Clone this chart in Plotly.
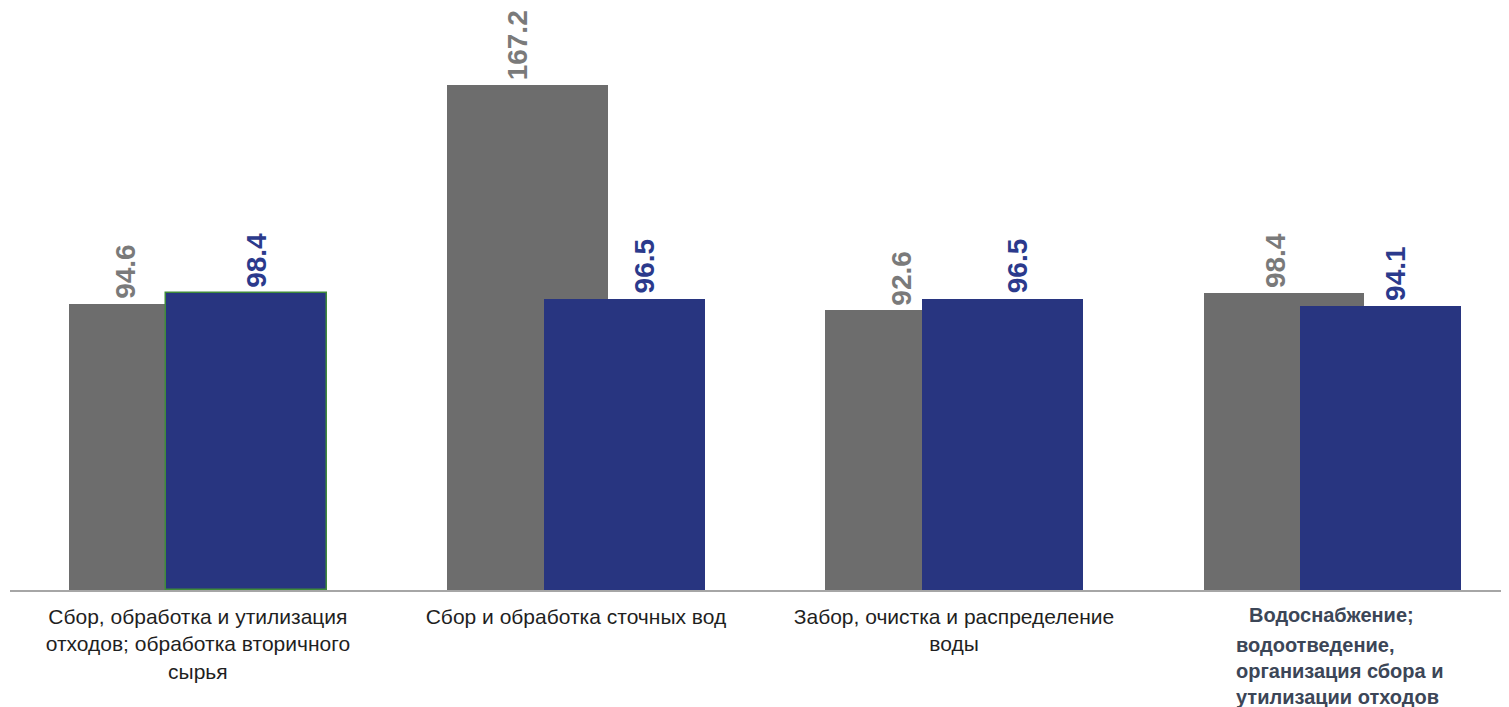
import plotly.graph_objects as go

categories = [
    "Сбор, обработка и утилизация<br>отходов; обработка вторичного<br>сырья",
    "Сбор и обработка сточных вод",
    "Забор, очистка и распределение<br>воды",
    "Водоснабжение;|водоотведение,<br>организация сбора и<br>утилизации отходов",
]
series_grey = [94.6, 167.2, 92.6, 98.4]
series_blue = [98.4, 96.5, 96.5, 94.1]

GREY = "#6d6d6d"
BLUE = "#283580"
GREY_TXT = "#7a7a7a"
BLUE_TXT = "#2b3a8c"
FONT = "Arial, Liberation Sans"

# horizontal placement of the value labels relative to each category centre (style)
grey_label_dx = [-0.19, -0.155, -0.138, -0.149]
blue_label_dx = [0.155, 0.181, 0.167, 0.168]

xs = list(range(len(categories)))

fig = go.Figure()
fig.add_trace(go.Bar(
    x=xs, y=series_grey, offset=-0.34, width=0.424,
    marker=dict(color=GREY, line=dict(width=0)),
    hoverinfo="skip", showlegend=False,
))
fig.add_trace(go.Bar(
    x=xs, y=series_blue, offset=-0.085, width=0.426,
    marker=dict(color=BLUE,
                line=dict(color=["#3f8a3a", BLUE, BLUE, BLUE], width=[1.5, 0, 0, 0])),
    hoverinfo="skip", showlegend=False,
))

annotations = []
for i, (g, b) in enumerate(zip(series_grey, series_blue)):
    annotations.append(dict(x=i + grey_label_dx[i], y=g, xref="x", yref="y", text=f"<b>{g:.1f}</b>",
                            textangle=-90, showarrow=False, xanchor="center", yanchor="bottom",
                            yshift=3, font=dict(family=FONT, size=28, color=GREY_TXT)))
    annotations.append(dict(x=i + blue_label_dx[i], y=b, xref="x", yref="y", text=f"<b>{b:.1f}</b>",
                            textangle=-90, showarrow=False, xanchor="center", yanchor="bottom",
                            yshift=3, font=dict(family=FONT, size=28, color=BLUE_TXT)))

# last category label (bold, left-aligned block)
first_line, rest = categories[3].split("|")
annotations.append(dict(x=3 - 0.224, y=0, xref="x", yref="paper", text=first_line,
                        showarrow=False, xanchor="left", yanchor="top", yshift=-12, align="left",
                        font=dict(family=FONT, size=20, color="#3c4657", weight="bold")))
annotations.append(dict(x=3 - 0.26, y=0, xref="x", yref="paper", text=rest,
                        showarrow=False, xanchor="left", yanchor="top", yshift=-42, align="left",
                        font=dict(family=FONT, size=20, color="#3c4657", weight="bold")))

# page body has an 8px margin: figure is sized/offset to compensate
fig.update_layout(
    width=1501, height=699,
    margin=dict(l=2, r=0, t=0, b=117),
    paper_bgcolor="white", plot_bgcolor="white",
    barmode="overlay",
    bargap=0,
    annotations=annotations,
    xaxis=dict(
        range=[-0.497, 3.468],
        tickvals=xs[:3], ticktext=categories[:3],
        tickfont=dict(family=FONT, size=21, color="#1f1f1f"),
        ticklabelstandoff=7,
        showline=True, linecolor="#a6a6a6", linewidth=1.5,
        showgrid=False, zeroline=False, ticks="", fixedrange=True,
    ),
    yaxis=dict(range=[0, 192.7], visible=False, showgrid=False, zeroline=False, fixedrange=True),
)

fig.write_html("out.html")
